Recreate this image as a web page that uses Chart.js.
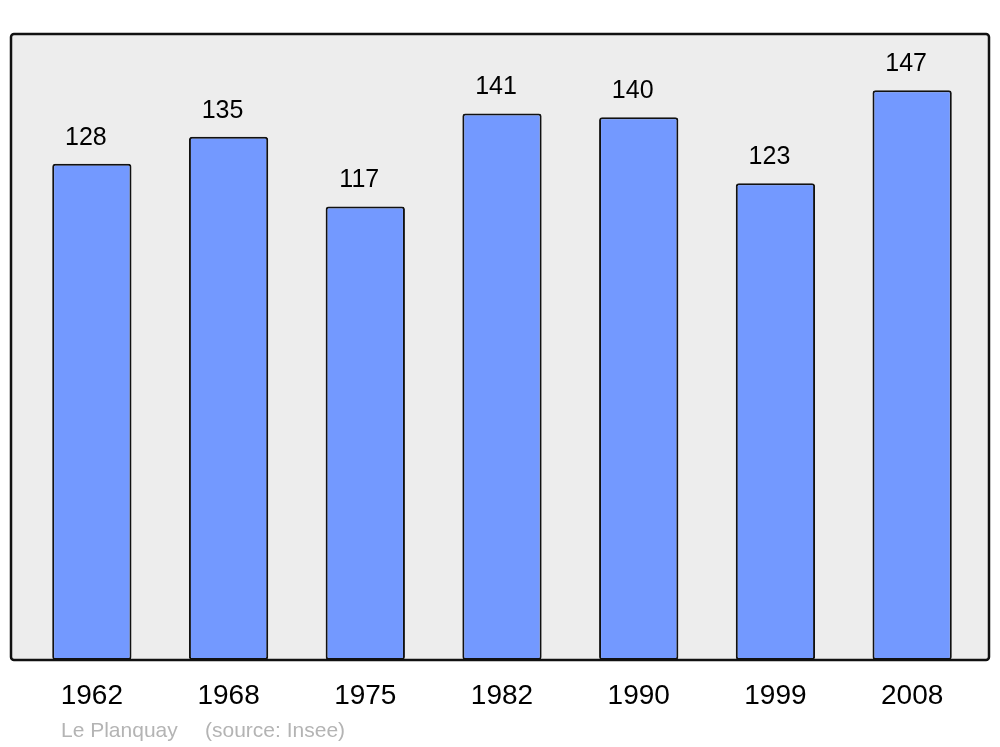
<!DOCTYPE html>
<html>
<head>
<meta charset="utf-8">
<script src="https://cdn.jsdelivr.net/npm/chart.js@4/dist/chart.umd.min.js"></script>
<style>
  html, body { margin: 0; padding: 0; background: #ffffff; }
  #wrap { width: 1000px; height: 747px; position: relative; }
</style>
</head>
<body>
<div id="wrap"><canvas id="chart" width="1000" height="747"></canvas></div>
<script>
const years = ["1962", "1968", "1975", "1982", "1990", "1999", "2008"];
const population = [128, 135, 117, 141, 140, 123, 147];
const townName = "Le Planquay";
const sourceText = "(source: Insee)";

// grey box behind the bars, a bit wider than the chart area
const framePlugin = {
  id: "frame",
  beforeDraw(chart) {
    const { ctx, chartArea: a } = chart;
    const x = a.left - 12.5, y = a.top, w = a.right - a.left + 21, h = a.bottom - a.top;
    ctx.save();
    ctx.beginPath();
    ctx.roundRect(x, y, w, h, 3);
    ctx.fillStyle = "#ededed";
    ctx.fill();
    ctx.restore();
  },
  afterDatasetsDraw(chart) {
    const { ctx, chartArea: a } = chart;
    const x = a.left - 12.5, y = a.top, w = a.right - a.left + 21, h = a.bottom - a.top;
    ctx.save();
    ctx.beginPath();
    ctx.roundRect(x, y, w, h, 3);
    ctx.lineWidth = 2.5;
    ctx.strokeStyle = "#111111";
    ctx.stroke();

    // values above the bars
    ctx.font = "25px 'Liberation Sans', Arial, sans-serif";
    ctx.fillStyle = "#000000";
    ctx.textAlign = "center";
    ctx.textBaseline = "alphabetic";
    chart.getDatasetMeta(0).data.forEach((bar, i) => {
      ctx.fillText(population[i], bar.x - 6, bar.y - 19);
    });

    // source line
    ctx.font = "21px 'Liberation Sans', Arial, sans-serif";
    ctx.fillStyle = "#b4b4b4";
    ctx.textAlign = "left";
    ctx.fillText(townName, 61, 737);
    ctx.fillText(sourceText, 205, 737);
    ctx.restore();
  }
};

new Chart(document.getElementById("chart"), {
  type: "bar",
  plugins: [framePlugin],
  data: {
    labels: years,
    datasets: [{
      data: population,
      backgroundColor: "#7399ff",
      borderColor: "#111111",
      borderWidth: 2,
      borderRadius: 3,
      borderSkipped: false,
      barPercentage: 0.58,
      categoryPercentage: 1,
    }],
  },
  options: {
    responsive: false,
    animation: false,
    events: [],
    layout: { padding: { left: 23.5, right: 19.5, top: 34, bottom: 0 } },
    plugins: {
      legend: { display: false },
      tooltip: { enabled: false },
    },
    scales: {
      x: {
        grid: { display: false, drawTicks: false },
        border: { display: false },
        ticks: {
          color: "#000000",
          padding: 19,
          font: { family: "'Liberation Sans', Arial, sans-serif", size: 28 },
        },
        afterFit(scale) { scale.height = 87; },
      },
      y: {
        display: false,
        min: 0,
        max: 161.5,
      },
    },
  },
});
</script>
</body>
</html>
